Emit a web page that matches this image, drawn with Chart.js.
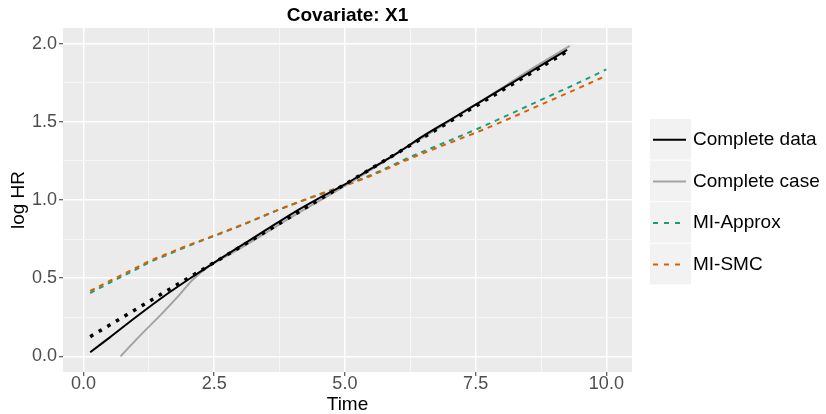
<!DOCTYPE html>
<html>
<head>
<meta charset="utf-8">
<script src="https://cdn.jsdelivr.net/npm/chart.js@4.4.1/dist/chart.umd.min.js"></script>
<style>
  html, body { margin: 0; padding: 0; background: #ffffff; }
  #wrap { width: 826px; height: 414px; }
</style>
</head>
<body>
<div id="wrap"><canvas id="hrChart" width="826" height="414"></canvas></div>
<script>
// log HR curves over time, covariate X1
var timeComplete = [0.13, 0.5, 1.0, 1.5, 2.0, 2.5, 3.0, 3.5, 4.0, 4.5, 5.0, 5.5, 6.0, 6.5, 7.0, 7.5, 8.0, 8.5, 9.0, 9.25];
var hrComplete = [0.026, 0.12, 0.25, 0.375, 0.49, 0.60, 0.705, 0.81, 0.915, 1.01, 1.10, 1.20, 1.30, 1.41, 1.51, 1.61, 1.71, 1.81, 1.91, 1.96];

var timeCompleteCase = [0.71, 1.07, 1.52, 1.84, 2.09, 2.4, 3.0, 4.0, 5.0, 6.0, 7.0, 8.0, 8.5, 9.0, 9.3];
var hrCompleteCase = [0.0, 0.128, 0.28, 0.395, 0.49, 0.575, 0.69, 0.895, 1.09, 1.30, 1.505, 1.715, 1.825, 1.925, 1.985];

var timeMI = [0.13, 0.5, 1.0, 1.25, 1.5, 2.0, 2.5, 3.0, 3.75, 4.5, 5.0, 5.5, 6.25, 7.0, 7.5, 8.0, 8.75, 9.5, 10.0];
var hrMIApprox = [0.405, 0.47, 0.555, 0.60, 0.635, 0.705, 0.77, 0.835, 0.94, 1.035, 1.095, 1.16, 1.275, 1.38, 1.45, 1.525, 1.64, 1.755, 1.835];
var hrMISMC = [0.418, 0.482, 0.565, 0.607, 0.642, 0.71, 0.773, 0.837, 0.94, 1.033, 1.092, 1.155, 1.265, 1.365, 1.43, 1.5, 1.61, 1.72, 1.795];

// true log HR (dotted, not in legend)
var timeTrue = [0.13, 9.23];
var hrTrue = [0.126, 1.946];

var xTicks = [0, 2.5, 5, 7.5, 10];
var yTicks = [0, 0.5, 1, 1.5, 2];

var FONT = '"Liberation Sans", Arial, sans-serif';

function toPoints(xs, ys) {
    return xs.map(function (x, i) { return { x: x, y: ys[i] }; });
}

// majors plus minor lines halfway between them
function withMinors(majors) {
    var out = [];
    for (var i = 0; i < majors.length; i++) {
        out.push({ value: majors[i], major: true });
        if (i < majors.length - 1) {
            out.push({ value: (majors[i] + majors[i + 1]) / 2, major: false });
        }
    }
    return out;
}

function isMajor(ctx) {
    return ctx.tick && ctx.tick.major;
}

var panelPlugin = {
    id: 'panel',
    beforeDraw: function (chart) {
        var c = chart.ctx, a = chart.chartArea;
        c.save();
        c.fillStyle = '#ffffff';
        c.fillRect(0, 0, chart.width, chart.height);
        c.fillStyle = '#EBEBEB';
        c.fillRect(a.left, a.top, a.right - a.left, a.bottom - a.top);
        c.restore();
    },
    afterDraw: function (chart) {
        var c = chart.ctx, a = chart.chartArea;
        c.save();
        // title
        c.fillStyle = '#000000';
        c.font = 'bold 19px ' + FONT;
        c.textAlign = 'center';
        c.textBaseline = 'middle';
        c.fillText('Covariate: X1', (a.left + a.right) / 2, 16);

        // legend
        var items = chart.data.datasets.filter(function (d) { return d.inLegend; });
        var top = 119, rowH = 41.6, keyX = 650, keyW = 41;
        c.font = '19px ' + FONT;
        c.textAlign = 'left';
        items.forEach(function (d, i) {
            var y0 = top + i * rowH;
            c.fillStyle = '#F2F2F2';
            c.fillRect(keyX, y0, keyW, rowH - 1);
            var cy = y0 + rowH / 2;
            c.strokeStyle = d.borderColor;
            c.lineWidth = 2;
            c.setLineDash(d.borderDash ? [5, 6] : []);
            c.beginPath();
            c.moveTo(keyX + 3, cy);
            c.lineTo(keyX + 36, cy);
            c.stroke();
            c.setLineDash([]);
            c.fillStyle = '#000000';
            c.fillText(d.label, 693, cy);
        });
        c.restore();
    }
};

var ctx = document.getElementById('hrChart').getContext('2d');
var hrChart = new Chart(ctx, {
    type: 'line',
    data: {
        datasets: [{
            label: 'Complete data',
            inLegend: true,
            data: toPoints(timeComplete, hrComplete),
            borderColor: '#000000',
            borderWidth: 2,
            order: 0
        }, {
            label: 'Complete case',
            inLegend: true,
            data: toPoints(timeCompleteCase, hrCompleteCase),
            borderColor: '#A3A3A3',
            borderWidth: 2,
            order: 2
        }, {
            label: 'MI-Approx',
            inLegend: true,
            data: toPoints(timeMI, hrMIApprox),
            borderColor: '#1B9E77',
            borderWidth: 2,
            borderDash: [5, 5],
            order: 4
        }, {
            label: 'MI-SMC',
            inLegend: true,
            data: toPoints(timeMI, hrMISMC),
            borderColor: '#D95F02',
            borderWidth: 2,
            borderDash: [5, 5],
            order: 3
        }, {
            label: 'True',
            inLegend: false,
            data: toPoints(timeTrue, hrTrue),
            borderColor: '#000000',
            borderWidth: 3.5,
            borderDash: [3.5, 6.5],
            order: 1
        }]
    },
    plugins: [panelPlugin],
    options: {
        responsive: false,
        animation: false,
        layout: { padding: { top: 28, right: 194, bottom: 0, left: 0 } },
        elements: {
            point: { radius: 0 },
            line: { tension: 0, cubicInterpolationMode: 'monotone', fill: false }
        },
        plugins: {
            legend: { display: false },
            title: { display: false },
            tooltip: { enabled: false }
        },
        scales: {
            x: {
                type: 'linear',
                min: -0.39,
                max: 10.49,
                afterBuildTicks: function (scale) { scale.ticks = withMinors(xTicks); },
                afterFit: function (scale) { scale.height = 42; },
                border: { display: false },
                grid: {
                    color: function (c) { return isMajor(c) ? '#FFFFFF' : '#F6F6F6'; },
                    lineWidth: function (c) { return isMajor(c) ? 1.5 : 1; },
                    tickColor: function (c) { return isMajor(c) ? '#333333' : 'rgba(0,0,0,0)'; },
                    tickLength: 4,
                    tickWidth: 1
                },
                ticks: {
                    autoSkip: false,
                    maxRotation: 0,
                    padding: -1,
                    color: '#4D4D4D',
                    font: { family: FONT, size: 18, lineHeight: 1 },
                    callback: function (v) {
                        return xTicks.indexOf(v) >= 0 ? v.toFixed(1) : '';
                    }
                },
                title: {
                    display: true,
                    text: 'Time',
                    color: '#000000',
                    padding: { top: 0, bottom: 0 },
                    font: { family: FONT, size: 19, lineHeight: 1 }
                }
            },
            y: {
                type: 'linear',
                min: -0.1,
                max: 2.1,
                afterBuildTicks: function (scale) { scale.ticks = withMinors(yTicks); },
                afterFit: function (scale) { scale.width = 63; },
                border: { display: false },
                grid: {
                    color: function (c) { return isMajor(c) ? '#FFFFFF' : '#F6F6F6'; },
                    lineWidth: function (c) { return isMajor(c) ? 1.5 : 1; },
                    tickColor: function (c) { return isMajor(c) ? '#333333' : 'rgba(0,0,0,0)'; },
                    tickLength: 4,
                    tickWidth: 1
                },
                ticks: {
                    autoSkip: false,
                    padding: 2,
                    color: '#4D4D4D',
                    font: { family: FONT, size: 18, lineHeight: 1 },
                    callback: function (v) {
                        return yTicks.indexOf(v) >= 0 ? v.toFixed(1) : '';
                    }
                },
                title: {
                    display: true,
                    text: 'log HR',
                    color: '#000000',
                    padding: { top: 9, bottom: 0 },
                    font: { family: FONT, size: 19, lineHeight: 1 }
                }
            }
        }
    }
});
</script>
</body>
</html>
